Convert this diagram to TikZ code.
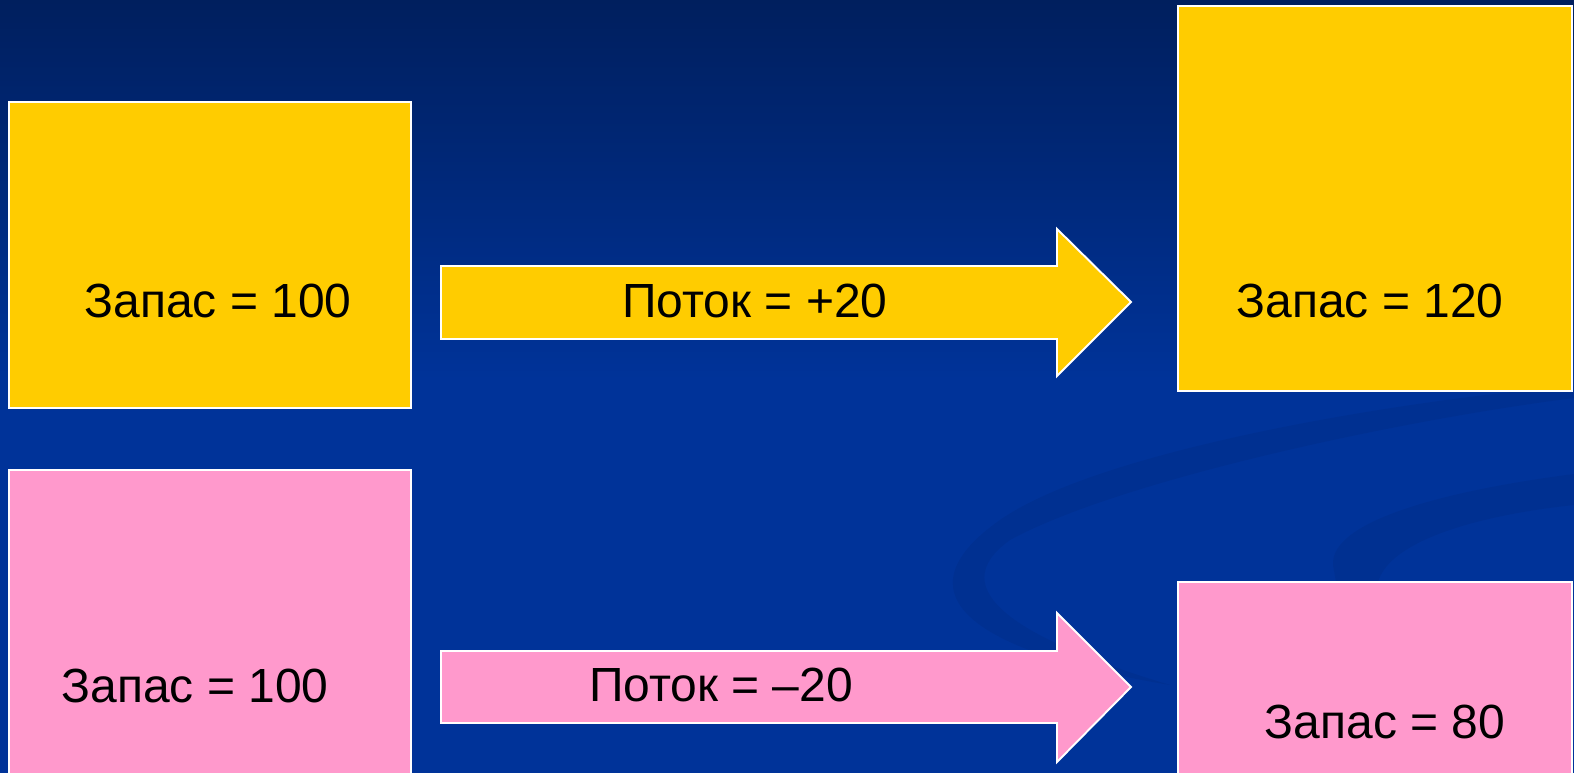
\documentclass[tikz,border=0pt]{standalone}
\usepackage{fontspec}
\setmainfont{Liberation Sans}
\usetikzlibrary{positioning,calc}
\definecolor{slidetop}{RGB}{0,31,94}
\definecolor{slideblue}{RGB}{0,51,153}
\definecolor{stockyellow}{RGB}{255,204,0}
\definecolor{stockpink}{RGB}{255,153,204}

\begin{document}
\begin{tikzpicture}[x=0.02cm, y=-0.02cm, line join=miter,
  stock/.style={draw=white, line width=1.1pt},
  flow/.style={draw=white, line width=1.1pt},
  txt/.style={font=\fontsize{27.3}{33}\selectfont, text=black, inner sep=0pt, anchor=base}]
\useasboundingbox (0,0) rectangle (1574,773);
% background
\shade[top color=slidetop, bottom color=slideblue] (0,0) rectangle (1574,380);
\fill[slideblue] (0,379) rectangle (1574,773);
\fill[black, opacity=0.05] (1574,386) .. controls (1400,400) and (1100,450) .. (1000,520)
  .. controls (900,590) and (960,650) .. (1170,685)
  .. controls (1020,640) and (940,590) .. (1010,540)
  .. controls (1120,480) and (1400,420) .. (1574,398) -- cycle;
\fill[black, opacity=0.05] (1574,474) .. controls (1450,490) and (1330,520) .. (1333,565)
  -- (1336,582) -- (1378,582) .. controls (1390,540) and (1480,515) .. (1574,505) -- cycle;
% stocks
\coordinate (A1) at (9,102);    \coordinate (A2) at (411,408);
\coordinate (B1) at (1178,6);   \coordinate (B2) at (1572,391);
\coordinate (C1) at (9,470);    \coordinate (C2) at (411,790);
\coordinate (D1) at (1178,582); \coordinate (D2) at (1572,790);
\filldraw[stock, fill=stockyellow] (A1) rectangle (A2);
\filldraw[stock, fill=stockyellow] (B1) rectangle (B2);
\filldraw[stock, fill=stockpink] (C1) rectangle (C2);
\filldraw[stock, fill=stockpink] (D1) rectangle (D2);
% flows
\coordinate (P) at (1131,302);
\coordinate (M) at (1131,687);
\filldraw[flow, fill=stockyellow] (441,266) -- (1057,266) -- (1057,229) -- (P)
  -- (1057,376) -- (1057,339) -- (441,339) -- cycle;
\filldraw[flow, fill=stockpink] (441,651) -- (1057,651) -- (1057,613) -- (M)
  -- (1057,762) -- (1057,723) -- (441,723) -- cycle;
% labels
\node[txt] (a) at (218,317) {Запас = 100};
\node[txt] (p) at (755,317) {Поток = +20};
\node[txt] (b) at (1370,317) {Запас = 120};
\node[txt] (c) at (195,702) {Запас = 100};
\node[txt] (m) at (721,701) {Поток = –20};
\node[txt] (d) at (1385,738) {Запас = 80};
\end{tikzpicture}
\end{document}
